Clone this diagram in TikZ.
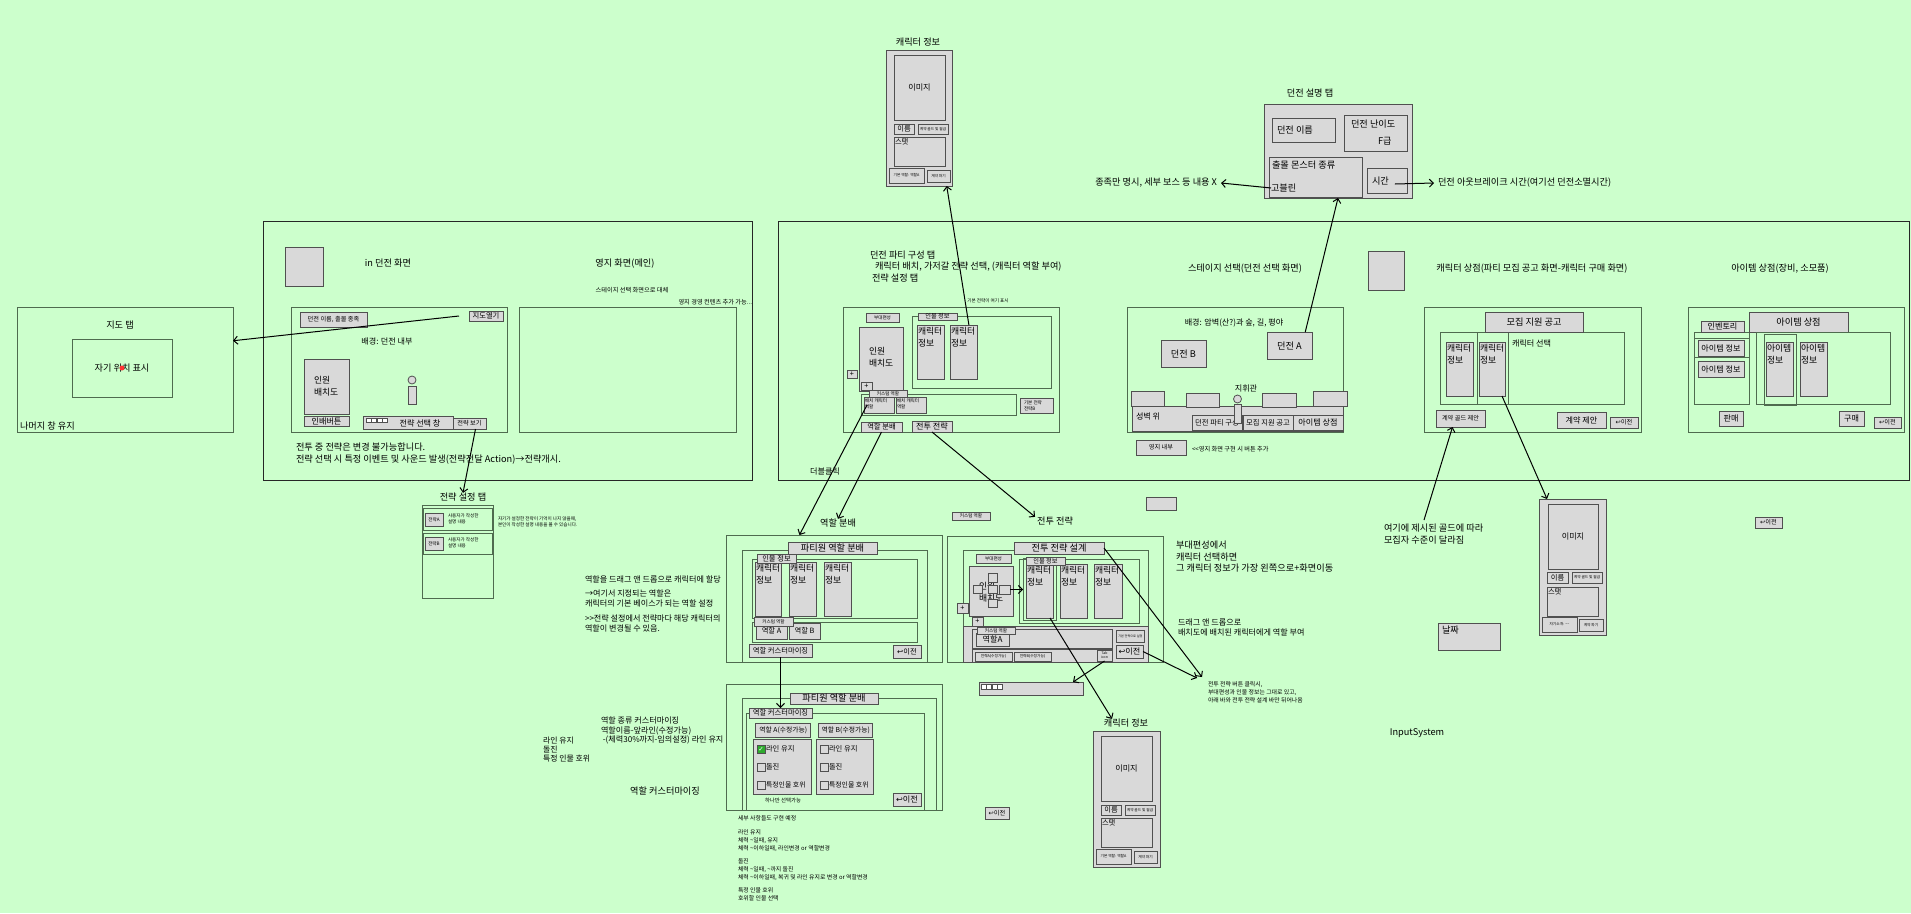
\documentclass[tikz,border=0pt]{standalone}
\usepackage{fontspec}
\setmainfont{Noto Sans CJK KR}
\newfontfamily\djv{DejaVu Sans}
\usetikzlibrary{arrows.meta,calc}
\newcommand\fsz[2]{\fontsize{#1pt}{#2pt}\selectfont}
\newcommand\szT{\fsz{9.2}{11.5}}
\newcommand\szC{\fsz{8.8}{12.5}}
\newcommand\szM{\fsz{8.1}{10}}
\newcommand\szS{\fsz{7.3}{8.5}}
\newcommand\szX{\fsz{6.2}{7.4}}
\newcommand\szU{\fsz{4.6}{5.5}}
\newcommand\szV{\fsz{3.7}{4.4}}
\newcommand\ret{{\djv ↩}}
\definecolor{bgc}{HTML}{CCFFCC}
\definecolor{gfill}{HTML}{D9D9D9}
\definecolor{gline}{HTML}{505050}
\definecolor{fline}{HTML}{4F6B4F}
\definecolor{chk}{HTML}{2EAA2E}
\tikzset{
 gb/.style={draw=gline,fill=gfill,line width=0.9pt,inner sep=0.5pt,outer sep=0pt,align=center},
 fb/.style={draw=fline,line width=0.9pt,inner sep=0pt,outer sep=0pt,align=center},
 ob/.style={draw=black!85,line width=0.8pt,inner sep=0pt,outer sep=0pt},
 tx/.style={inner sep=0pt,outer sep=0pt,align=left},
 arr/.style={draw=black,line width=1pt,-{Straight Barb[length=4pt,width=8pt]}},
}
\newcommand\bxx[7][gb]{\node[#1,minimum width={(#5-(#3))*1pt},minimum height={(#6-(#4))*1pt}] (#2) at ({(#3+#5)/2},{(#4+#6)/2}) {#7};}
\newcommand\tnode[4][]{\node[tx,#1] (#2) at (#3) {#4};}
\begin{document}
\begin{tikzpicture}[x=1pt,y=-1pt]
\fill[bgc] (0,0) rectangle (1911,913);
\useasboundingbox (0,0) rectangle (1911,913);

% ===== top character info
\tnode[font=\szT]{ci1t}{918,42}{캐릭터 정보}
\bxx{ci1}{886}{50}{952}{186}{}
\bxx{ci1img}{894}{55}{945}{120}{\szM 이미지}
\bxx{ci1nm}{894}{124}{914}{134}{\szS 이름}
\bxx{ci1gd}{918}{124}{948}{134}{\szV 계약 골드 및 월급}
\bxx{ci1st}{894}{137}{945}{166}{}
\tnode[anchor=north west,font=\szS]{ci1stt}{895,138}{스탯}
\bxx{ci1rl}{889}{168}{924}{183}{\szV 기본 역할: 역할A}
\bxx{ci1br}{927}{170}{950}{182}{\szV 계약 파기}

% ===== dungeon description
\tnode[font=\szT]{ddt}{1310,93}{던전 설명 탭}
\bxx{dd}{1264}{104}{1412}{198}{}
\bxx{ddnm}{1272}{118}{1335}{142}{}
\tnode[anchor=west,font=\szT]{ddnmt}{1277,130}{던전 이름}
\bxx{dddf}{1344}{115}{1407}{151}{}
\tnode[anchor=west,font=\szT]{dddft}{1351,124}{던전 난이도}
\tnode[anchor=west,font=\szT]{dddfg}{1378,141}{F급}
\bxx{ddmn}{1269}{157}{1362}{197}{}
\tnode[anchor=west,font=\szT]{ddmnt}{1272,165}{출몰 몬스터 종류}
\tnode[anchor=west,font=\szT]{ddgob}{1271,188}{고블린}
\bxx{ddtm}{1367}{168}{1407}{193}{}
\tnode[anchor=west,font=\szT]{ddtmt}{1372,181}{시간}
\tnode[anchor=east,font=\szT]{ddn1}{1217,183}{종족만 명시, 세부 보스 등 내용 X}
\tnode[anchor=west,font=\szT]{ddn2}{1438,183}{던전 아웃브레이크 시간(여기선 던전소멸시간)}
\draw[arr] (ddgob.west) -- ($(ddn1.east)+(4,0)$);
\draw[arr] ($(ddtmt.east)+(6,3)$) -- ($(ddn2.west)+(-4,0)$);

% ===== map tab
\bxx[fb]{map}{17}{307}{233}{432}{}
\tnode[font=\szT]{mapt}{120,325}{지도 탭}
\bxx[fb]{mapin}{72}{339}{172}{397}{\szT 자기 위치 표시}
\fill[red!80] (122,368) circle (2.5);
\tnode[anchor=west,font=\szT]{mapr}{20,426}{나머지 창 유지}

% ===== in-dungeon screen
\bxx[ob]{indun}{263}{221}{752}{480}{}
\bxx{indsq}{285}{247}{323}{286}{}
\tnode[font=\szT]{indt}{388,263}{in 던전 화면}
\bxx[fb]{dscr}{291}{307}{507}{432}{}
\bxx{dnm}{300}{312}{367}{327}{\szX 던전 이름, 출몰 종족}
\bxx{dmap}{469}{311}{503}{321}{\szS 지도열기}
\tnode[font=\szM]{dbg}{387,341}{배경: 던전 내부}
\bxx{dpl}{304}{359}{349}{414}{}
\tnode[anchor=west,font=\szC]{dplt}{314,386}{인원\\배치도}
\bxx{dbtn}{304}{416}{349}{426}{\szM 인배버튼}
\bxx{dpc}{408}{386}{416}{404}{}
\draw[gline,fill=gfill,line width=0.8pt] (412,380) circle (4);
\bxx{dsel}{363}{416}{453}{429}{}
\foreach \i in {0,...,3} \draw[gline,fill=white,line width=0.6pt] ({366+\i*5.5},418) rectangle ++(5,4);
\tnode[font=\szM]{dselt}{420,423}{전략 선택 창}
\bxx{dview}{453}{418}{486}{429}{\szX 전략 보기}
\tnode[anchor=west,font=\szT]{dn1}{296,447}{전투 중 전략은 변경 불가능합니다.}
\tnode[anchor=west,font=\szT]{dn2}{296,460}{전략 선택 시 특정 이벤트 및 사운드 발생(전략전달 Action)→전략개시.}
\draw[arr] ($(dmap.west)+(-10,0)$) -- ($(map.north east)!0.27!(map.south east)$);

% ===== territory
\bxx[fb]{yj}{519}{307}{736}{432}{}
\tnode[font=\szT]{yjt}{625,264}{영지 화면(메인)}
\tnode[font=\szX]{yj1}{632,290}{스테이지 선택 화면으로 대체}
\tnode[anchor=east,font=\szX]{yj2}{752,302}{영지 경영 컨텐츠 추가 가능...}

% ===== strategy tab
\tnode[font=\szT]{stt}{463,497}{전략 설정 탭}
\draw[arr] ($(dview.south)+(6,0)$) -- (stt.north);
\bxx[fb]{st}{422}{505}{493}{598}{}
\bxx[fb]{st1}{423}{508}{492}{530}{}
\bxx{st1b}{425}{513}{443}{526}{\szU 전략A}
\tnode[anchor=west,font=\szU]{st1t}{448,519}{사용자가 작성한\\설명 내용}
\bxx[fb]{st2}{423}{533}{492}{554}{}
\bxx{st2b}{425}{537}{443}{550}{\szU 전략B}
\tnode[anchor=west,font=\szU]{st2t}{448,543}{사용자가 작성한\\설명 내용}
\tnode[anchor=west,font=\szU]{stn}{498,522}{자기가 설정한 전략이 기억이 나지 않을때,\\본인이 작성한 설명 내용을 볼 수 있습니다.}

% ===== middle notes
\tnode[anchor=west,font=\szM]{mn1}{585,579}{역할을 드래그 앤 드롭으로 캐릭터에 할당}
\tnode[anchor=north west,font=\szM]{mn2}{585,590}{→여기서 지정되는 역할은\\캐릭터의 기본 베이스가 되는 역할 설정}
\tnode[anchor=north west,font=\szM]{mn3}{585,615}{>{}>전략 설정에서 전략마다 해당 캐릭터의\\역할이 변경될 수 있음.}

% ===== big box
\bxx[ob]{big}{778}{221}{1909}{480}{}

% ===== party composition tab
\tnode[anchor=west,font=\szT]{pt1}{870,255}{던전 파티 구성 탭}
\tnode[anchor=west,font=\szT]{pt2}{875,267}{캐릭터 배치, 가저갈 전략 선택, (캐릭터 역할 부여)}
\tnode[anchor=west,font=\szT]{pt3}{872,278}{전략 설정 탭}
\tnode[font=\szU]{ptdt}{988,301}{기본 전략이 여기 표시}
\bxx[fb]{pt}{843}{307}{1059}{432}{}
\bxx{ptfm}{866}{313}{899}{322}{\szU 부대편성}
\bxx[fb]{ptin}{912}{316}{1051}{388}{}
\bxx{ptc1}{917}{325}{944}{379}{}
\bxx{ptc2}{950}{325}{977}{379}{}
\tnode[anchor=north west,font=\szC]{ptc1t}{918,327}{캐릭터\\정보}
\tnode[anchor=north west,font=\szC]{ptc2t}{951,327}{캐릭터\\정보}
\bxx{ptinl}{918}{313}{957}{320}{\szX 인물 정보}
\bxx{ptpl}{859}{327}{903}{391}{}
\tnode[anchor=west,font=\szC]{ptplt}{869,357}{인원\\배치도}
\bxx{ptp1}{847}{370}{857}{378}{\szS +}
\bxx{ptp2}{861}{382}{872}{390}{\szS +}
\bxx[fb]{ptcr}{861}{394}{1016}{415}{}
\bxx{ptr1}{864}{397}{894}{413}{}
\bxx{ptr2}{896}{397}{926}{413}{}
\tnode[anchor=north west,font=\szU]{ptr1t}{865,399}{배치 캐릭터\\역할}
\tnode[anchor=north west,font=\szU]{ptr2t}{897,399}{배치 캐릭터\\역할}
\bxx{ptcrl}{869}{390}{907}{397}{\szU 커스텀 역할}
\bxx{ptdf}{1020}{398}{1053}{413}{}
\tnode[anchor=north west,font=\szU]{ptdft}{1024,401}{기본 전략\\전략B}
\bxx{ptrole}{861}{422}{902}{432}{\szS 역할 분배}
\bxx{ptbat}{912}{421}{952}{432}{\szM 전투 전략}
\tnode[font=\szM]{ptdc}{825,471}{더블클릭}
\draw[arr] ($(ptc2.north west)!0.7!(ptc2.north east)$) -- ($(ci1.south west)!0.92!(ci1.south east)$);

% ===== stage select
\tnode[font=\szT]{sst}{1245,269}{스테이지 선택(던전 선택 화면)}
\bxx{sq2}{1368}{251}{1404}{290}{}
\bxx[fb]{ss}{1127}{307}{1343}{432}{}
\tnode[font=\szM]{ssbg}{1234,323}{배경: 암벽(산?)과 숲, 길, 평야}
\bxx{dA}{1267}{332}{1312}{359}{\szT 던전 A}
\bxx{dB}{1161}{340}{1206}{367}{\szT 던전 B}
\bxx{wall}{1132}{406}{1343}{431}{}
\bxx{m1}{1131}{391}{1164}{406}{}
\bxx{m2}{1186}{393}{1219}{407}{}
\bxx{m3}{1262}{393}{1296}{407}{}
\bxx{m4}{1313}{391}{1347}{406}{}
\tnode[anchor=west,font=\szM]{wallt}{1136,416}{성벽 위}
\bxx{bpc}{1192}{415}{1242}{430}{\szS 던전 파티 구성}
\bxx{brc}{1243}{415}{1293}{430}{\szS 모집 지원 공고}
\bxx{bis}{1293}{415}{1343}{430}{\szM 아이템 상점}
\tnode[font=\szM]{cmdt}{1246,388}{지휘관}
\bxx{cmdb}{1234}{404}{1241}{423}{}
\draw[gline,fill=gfill,line width=0.8pt] (1237.5,399) circle (4);
\bxx{yjb}{1136}{440}{1186}{455}{\szX 영지 내부}
\tnode[anchor=west,font=\szX]{yjn}{1192,449}{<{}<영지 화면 구현 시 버튼 추가}
\draw[arr] ($(dA.north west)!0.85!(dA.north east)$) -- (dd.south);

% ===== character shop
\tnode[font=\szT]{cst}{1532,269}{캐릭터 상점(파티 모집 공고 화면-캐릭터 구매 화면)}
\bxx[fb]{cs}{1424}{307}{1641}{432}{}
\bxx[fb]{cssel}{1440}{332}{1624}{404}{}
\bxx[fb]{cshl}{1477}{332}{1508}{404}{}
\bxx{csrec}{1485}{312}{1583}{332}{\szT 모집 지원 공고}
\tnode[anchor=west,font=\szM]{csselt}{1512,343}{캐릭터 선택}
\bxx{csc1}{1446}{342}{1473}{396}{}
\bxx{csc2}{1479}{342}{1505}{396}{}
\tnode[anchor=north west,font=\szC]{csc1t}{1447,344}{캐릭터\\정보}
\tnode[anchor=north west,font=\szC]{csc2t}{1480,344}{캐릭터\\정보}
\bxx{csgd}{1436}{410}{1485}{427}{\szX 계약 골드 제안}
\bxx{csof}{1557}{412}{1606}{428}{\szM 계약 제안}
\bxx{cspv}{1610}{417}{1638}{428}{\szX\ret 이전}
\tnode[anchor=north west,font=\szT]{csn}{1384,524}{여기에 제시된 골드에 따라\\모집자 수준이 달라짐}
\draw[arr] ($(csn.north west)+(40,-4)$) -- ($(csgd.south)+(-8,0)$);

% ===== item shop
\tnode[font=\szT]{ist}{1780,269}{아이템 상점(장비, 소모품)}
\bxx[fb]{is}{1688}{307}{1904}{432}{}
\bxx[fb]{inv}{1694}{332}{1749}{404}{}
\bxx{invl}{1701}{321}{1744}{332}{\szM 인벤토리}
\bxx[fb]{invhl}{1694}{338}{1749}{357}{}
\bxx{it1}{1698}{340}{1744}{356}{\szM 아이템 정보}
\bxx{it2}{1698}{361}{1744}{377}{\szM 아이템 정보}
\bxx{isl}{1749}{312}{1848}{332}{\szT 아이템 상점}
\bxx[fb]{isb}{1756}{332}{1890}{404}{}
\bxx[fb]{ishl}{1764}{334}{1796}{405}{}
\bxx{it3}{1766}{342}{1793}{396}{}
\bxx{it4}{1800}{342}{1827}{396}{}
\tnode[anchor=north west,font=\szC]{it3t}{1767,344}{아이템\\정보}
\tnode[anchor=north west,font=\szC]{it4t}{1801,344}{아이템\\정보}
\bxx{sell}{1719}{411}{1743}{426}{\szM 판매}
\bxx{buy}{1839}{411}{1864}{426}{\szM 구매}
\bxx{ispv}{1874}{417}{1901}{428}{\szX\ret 이전}

% ===== character info (right)
\bxx{ci2}{1539}{499}{1606}{635}{}
\bxx{ci2img}{1548}{504}{1598}{569}{\szM 이미지}
\bxx{ci2nm}{1547}{572}{1568}{583}{\szS 이름}
\bxx{ci2gd}{1572}{572}{1602}{583}{\szV 계약 골드 및 월급}
\bxx{ci2st}{1547}{587}{1598}{616}{}
\tnode[anchor=north west,font=\szS]{ci2stt}{1548,588}{스탯}
\bxx{ci2in}{1542}{617}{1577}{632}{\szV 자기소개: \textasciitilde\textasciitilde}
\bxx{ci2br}{1579}{619}{1603}{631}{\szV 계약 파기}
\draw[arr] ($(csc2.south east)+(-3,0)$) -- ($(ci2.north west)+(8,0)$);

\bxx{date}{1438}{623}{1500}{650}{}
\tnode[anchor=north west,font=\szT]{datet}{1442,626}{날짜}
\bxx{pvA}{1755}{517}{1782}{528}{\szX\ret 이전}
\tnode[font=\szT]{inps}{1417,733}{InputSystem}
\bxx{pvB}{985}{807}{1009}{819}{\szX\ret 이전}

% ===== role division
\tnode[font=\szT]{rdt}{838,523}{역할 분배}
\bxx[fb]{rd}{726}{535}{942}{662}{}
\bxx[fb]{rdin}{742}{550}{927}{662}{}
\bxx{rdl}{788}{542}{877}{554}{\szT 파티원 역할 분배}
\bxx[fb]{rdinfo}{752}{559}{917}{618}{}
\bxx{rdc1}{755}{562}{781}{616}{}
\bxx{rdc2}{789}{562}{816}{616}{}
\bxx{rdc3}{824}{562}{851}{616}{}
\tnode[anchor=north west,font=\szC]{rdc1t}{756,564}{캐릭터\\정보}
\tnode[anchor=north west,font=\szC]{rdc2t}{790,564}{캐릭터\\정보}
\tnode[anchor=north west,font=\szC]{rdc3t}{825,564}{캐릭터\\정보}
\bxx{rdinl}{757}{554}{796}{563}{\szS 인물 정보}
\bxx[fb]{rdcr}{752}{622}{917}{642}{}
\bxx{rdA}{756}{623}{787}{639}{\szS 역할 A}
\bxx{rdB}{789}{623}{820}{639}{\szS 역할 B}
\bxx{rdcrl}{754}{617}{793}{626}{\szU 커스텀 역할}
\bxx{rdcu}{749}{644}{812}{657}{\szS 역할 커스터마이징}
\bxx{rdpv}{893}{645}{921}{658}{\szS\ret 이전}
\draw[arr] ($(ptr1.west)+(3,0)$) -- ($(rd.north west)!0.34!(rd.north east)$);
\draw[arr] (ptrole.south) -- (rdt.north);

% ===== battle strategy
\tnode[font=\szT]{bst}{1055,521}{전투 전략}
\draw[arr] (ptbat.south) -- ($(bst.north west)+(-2,0)$);
\bxx{bscr}{952}{512}{990}{520}{\szU 커스텀 역할}
\bxx{bsgray}{1146}{497}{1176}{510}{}
\bxx[fb]{bs}{947}{536}{1163}{662}{}
\bxx[fb]{bsin}{963}{550}{1148}{662}{}
\bxx{bslow}{963}{626}{1148}{662}{}
\bxx{bsl}{1014}{542}{1104}{554}{\szT 전투 전략 설계}
\bxx{bsfm}{976}{554}{1011}{563}{\szU 부대편성}
\bxx{bspl}{969}{566}{1013}{616}{}
\tnode[anchor=west,font=\szC]{bsplt}{979,592}{인원\\배치도}
\bxx{sqT}{988}{573}{997}{582}{}
\bxx{sqL}{973}{585}{982}{593}{}
\bxx{sqM}{988}{585}{997}{593}{}
\bxx{sqR}{999}{585}{1010}{594}{}
\bxx{sqB}{988}{599}{997}{607}{}
\bxx{bsp1}{957}{603}{968}{613}{\szS +}
\bxx{bsp2}{972}{617}{983}{626}{\szS +}
\bxx[fb]{bsinfo}{1019}{559}{1139}{623}{}
\bxx[fb]{bshl}{1023}{558}{1056}{620}{}
\bxx{bsc1}{1026}{564}{1053}{618}{}
\bxx{bsc2}{1060}{564}{1087}{618}{}
\bxx{bsc3}{1094}{564}{1122}{618}{}
\tnode[anchor=north west,font=\szC]{bsc1t}{1027,566}{캐릭터\\정보}
\tnode[anchor=north west,font=\szC]{bsc2t}{1061,566}{캐릭터\\정보}
\tnode[anchor=north west,font=\szC]{bsc3t}{1095,566}{캐릭터\\정보}
\bxx{bsinl}{1026}{557}{1065}{565}{\szX 인물 정보}
\draw[arr] (sqR.east) -- (sqR.east -| bshl.west);
\bxx{bscrb}{972}{629}{1112}{648}{}
\bxx{bsA}{976}{633}{1009}{646}{\szM 역할A}
\bxx{bscrl}{977}{627}{1015}{634}{\szU 커스텀 역할}
\bxx{bsdf}{1116}{630}{1144}{642}{\fsz{3.1}{4} 기본 전략으로 설정}
\bxx{bspv}{1116}{645}{1143}{658}{\szM\ret 이전}
\bxx{bsrow}{972}{649}{1112}{662}{}
\bxx{bsA2}{975}{652}{1012}{661}{\szV 전략A(수정가능)}
\bxx{bsB2}{1014}{652}{1051}{661}{\szV 전략B(수정가능)}
\bxx[gb,font=\fsz{3.4}{4}]{bstab}{1097}{650}{1112}{661}{Tab\\icon}
\bxx{bar}{979}{682}{1083}{695}{}
\foreach \i in {0,...,3} \draw[gline,fill=white,line width=0.6pt] ({981+\i*5.5},684) rectangle ++(5,5);
\draw[arr] (bstab.south) -- ($(bar.north east)+(-10,0)$);
\tnode[anchor=north west,font=\szT]{bsn1}{1176,541}{부대편성에서\\캐릭터 선택하면\\그 캐릭터 정보가 가장 왼쪽으로+화면이동}
\tnode[anchor=north west,font=\szM]{bsn2}{1178,619}{드래그 앤 드롭으로\\배치도에 배치된 캐릭터에게 역할 부여}
\tnode[anchor=north west,font=\fsz{5.9}{7.8}]{bsn3}{1208,682}{전투 전략 버튼 클릭시,\\부대편성과 인물 정보는 그대로 있고,\\아래 바와 전투 전략 설계 바만 뒤어나옴}
\draw[arr] (bsl.east) -- ($(bsn3.north west)+(-6,-5)$);
\draw[arr] (bspv.east) -- ($(bsn3.north west)+(-11,-4)$);

% ===== character info (bottom)
\tnode[font=\szT]{ci3t}{1126,723}{캐릭터 정보}
\bxx{ci3}{1093}{731}{1160}{867}{}
\bxx{ci3img}{1101}{736}{1152}{801}{\szM 이미지}
\bxx{ci3nm}{1101}{805}{1121}{815}{\szS 이름}
\bxx{ci3gd}{1125}{805}{1155}{815}{\szV 계약 골드 및 월급}
\bxx{ci3st}{1101}{818}{1152}{847}{}
\tnode[anchor=north west,font=\szS]{ci3stt}{1102,819}{스탯}
\bxx{ci3rl}{1096}{849}{1131}{864}{\szV 기본 역할: 역할A}
\bxx{ci3br}{1134}{851}{1157}{863}{\szV 계약 파기}
\draw[arr] ($(bsc1.south east)+(-3,0)$) -- ($(ci3t.north)+(-14,0)$);

% ===== role customization
\bxx[fb]{rc}{726}{684}{942}{810}{}
\bxx[fb]{rcin}{742}{698}{936}{810}{}
\bxx{rcl2}{790}{693}{878}{704}{\szT 파티원 역할 분배}
\bxx[fb]{rcc}{746}{713}{924}{810}{}
\bxx{rcl}{749}{708}{812}{718}{\szS 역할 커스터마이징}
\draw[arr] (rdcu.south) -- (rcl.north);
\bxx{rcA}{755}{723}{810}{737}{\fsz{6.8}{8} 역할 A(수정가능)}
\bxx{rcB}{818}{723}{872}{737}{\fsz{6.8}{8} 역할 B(수정가능)}
\bxx{rcAo}{753}{739}{811}{794}{}
\bxx{rcBo}{816}{739}{873}{794}{}
\bxx[gb,fill=chk]{cA1}{757}{745}{765}{753}{\djv\fsz{6.5}{6.5}\color{white}✓}
\bxx{cA2}{757}{763}{765}{771}{}
\bxx{cA3}{757}{781}{765}{789}{}
\bxx{cB1}{820}{745}{828}{753}{}
\bxx{cB2}{820}{763}{828}{771}{}
\bxx{cB3}{820}{781}{828}{789}{}
\tnode[anchor=west,font=\szS]{oA1}{766,749}{라인 유지}
\tnode[anchor=west,font=\szS]{oA2}{766,767}{돌진}
\tnode[anchor=west,font=\fsz{6.9}{8}]{oA3}{766,785}{특정인물 호위}
\tnode[anchor=west,font=\szS]{oB1}{829,749}{라인 유지}
\tnode[anchor=west,font=\szS]{oB2}{829,767}{돌진}
\tnode[anchor=west,font=\fsz{6.9}{8}]{oB3}{829,785}{특정인물 호위}
\tnode[font=\fsz{5.4}{6}]{rcone}{783,800}{하나만 선택가능}
\bxx{rcpv}{893}{793}{921}{806}{\szM\ret 이전}

\tnode[anchor=north west,font=\fsz{8.1}{9.4}]{rcn1}{601,717}{역할 종류 커스터마이징\\역할이름-앞라인(수정가능)\\\ -(체력30\%까지-임의설정) 라인 유지}
\tnode[anchor=north west,font=\fsz{7.9}{9.2}]{rcn2}{543,737}{라인 유지\\돌진\\특정 인물 호위}
\tnode[font=\szT]{rcn3}{665,791}{역할 커스터마이징}
\tnode[anchor=north west,font=\fsz{5.9}{7.7}]{rcn4}{738,816}{세부 사항들도 구현 예정\\[6pt]라인 유지\\체력 \textasciitilde 일때, 유지\\체력 \textasciitilde 이하일때, 라인변경 or 역할변경\\[6pt]돌진\\체력 \textasciitilde 일때, \textasciitilde 까지 돌진\\체력 \textasciitilde 이하일때, 복귀 및 라인 유지로 변경 or 역할변경\\[6pt]특정 인물 호위\\호위할 인물 선택}
\end{tikzpicture}
\end{document}
